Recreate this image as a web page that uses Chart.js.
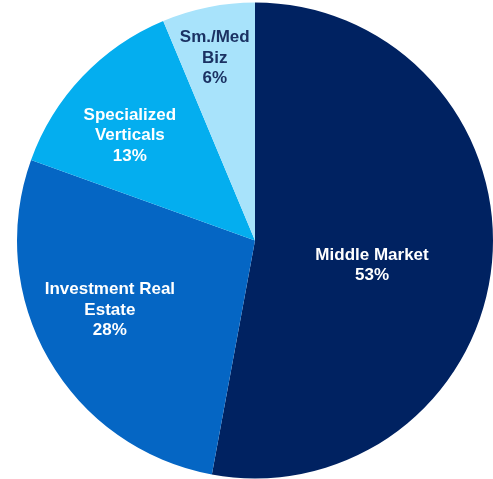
<!DOCTYPE html>
<html>
<head>
<meta charset="utf-8">
<script src="https://cdn.jsdelivr.net/npm/chart.js@4/dist/chart.umd.min.js"></script>
<style>
  html, body { margin: 0; padding: 0; background: #fff; }
  #wrap { width: 493px; height: 479px; position: relative; }
</style>
</head>
<body>
<div id="wrap"><canvas id="pie"></canvas></div>
<script>
// Portfolio mix, clockwise from 12 o'clock
const categories = ['Middle Market', 'Investment Real Estate', 'Specialized Verticals', 'Sm./Med Biz'];
const shares = [52.9, 27.6, 13.2, 6.3];
const labelLines = [
  ['Middle Market'],
  ['Investment Real', 'Estate'],
  ['Specialized', 'Verticals'],
  ['Sm./Med', 'Biz']
];

const sliceColors = ['#002261', '#0566c4', '#04aeef', '#a8e3fb'];
const textColors = ['#ffffff', '#ffffff', '#ffffff', '#1b3263'];
// label placement: fraction of radius, angle nudge in degrees
const labelRadius = [0.503, 0.676, 0.686, 0.785];
const labelNudge = [6.9, 4.3, -3.6, -1.1];

// Draw multi-line labels inside each slice
const sliceLabels = {
  id: 'sliceLabels',
  afterDatasetsDraw(chart) {
    const { ctx } = chart;
    const meta = chart.getDatasetMeta(0);
    ctx.save();
    ctx.font = 'bold 17px "Liberation Sans", Arial, sans-serif';
    ctx.textAlign = 'center';
    ctx.textBaseline = 'middle';
    meta.data.forEach((arc, i) => {
      const p = arc.getProps(['x', 'y', 'startAngle', 'endAngle', 'outerRadius'], true);
      const mid = (p.startAngle + p.endAngle) / 2 + labelNudge[i] * Math.PI / 180;
      const r = p.outerRadius * labelRadius[i];
      const cx = p.x + Math.cos(mid) * r;
      const cy = p.y + Math.sin(mid) * r;
      const lines = [...labelLines[i], Math.round(shares[i]) + '%'];
      const lh = 20.3;
      ctx.fillStyle = textColors[i];
      lines.forEach((t, j) => {
        ctx.fillText(t, cx, cy + (j - (lines.length - 1) / 2) * lh);
      });
    });
    ctx.restore();
  }
};

new Chart(document.getElementById('pie'), {
  type: 'pie',
  data: {
    labels: categories,
    datasets: [{
      data: shares,
      backgroundColor: sliceColors,
      borderWidth: 0
    }]
  },
  options: {
    responsive: true,
    maintainAspectRatio: false,
    animation: false,
    layout: { padding: { left: 17, right: 0, top: 2.5, bottom: 0.5 } },
    plugins: {
      legend: { display: false },
      tooltip: { enabled: false }
    }
  },
  plugins: [sliceLabels]
});
</script>
</body>
</html>
